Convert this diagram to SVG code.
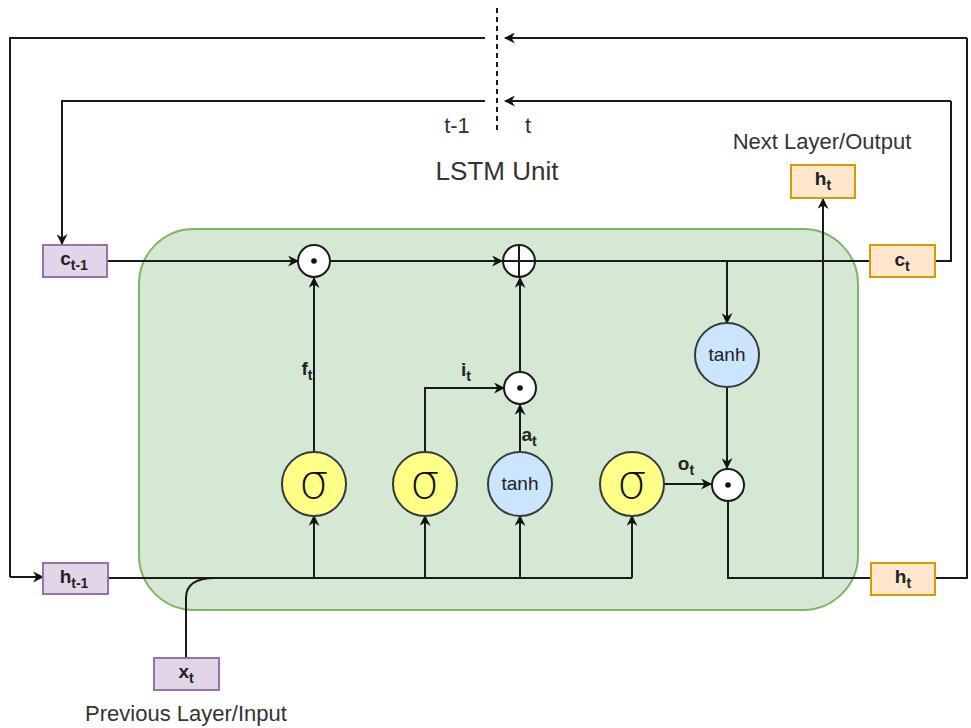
<svg xmlns="http://www.w3.org/2000/svg" width="971" height="728" viewBox="0 0 971 728">
<defs>
<marker id="arr" viewBox="0 0 10 10" refX="9" refY="5" markerWidth="11" markerHeight="11" markerUnits="userSpaceOnUse" orient="auto">
<path d="M0,0 L10,5 L0,10 L3,5 Z" fill="#111"/>
</marker>
<style>
.ln{fill:none;stroke:#1a1a1a;stroke-width:2}
.ar{marker-end:url(#arr)}
.pu{fill:#e1d5e7;stroke:#9673a6;stroke-width:2}
.or{fill:#ffe6cc;stroke:#d79b00;stroke-width:2}
.ye{fill:#ffff88;stroke:#36393d;stroke-width:2}
.bl{fill:#cce5ff;stroke:#36393d;stroke-width:2}
.op{fill:#ffffff;stroke:#1a1a1a;stroke-width:2}
.lb{font-family:"Liberation Sans",Arial,sans-serif;font-size:19px;font-weight:bold;fill:#222;text-anchor:middle}
.sb{font-size:14px}
.tx{font-family:"Liberation Sans",Arial,sans-serif;font-size:22px;fill:#333;text-anchor:middle}
.sg{font-family:"DejaVu Sans",sans-serif;font-weight:200;font-size:48px;fill:#111;text-anchor:middle}
.th{font-family:"Liberation Sans",Arial,sans-serif;font-size:19px;fill:#222;text-anchor:middle}
</style>
</defs>

<!-- cell body -->
<rect id="cell" x="139" y="229" width="719" height="381" rx="55" ry="55" fill="#d5e8d4" stroke="#82b366" stroke-width="2"/>

<!-- time step divider -->
<line x1="497" y1="8" x2="497" y2="133" stroke="#1a1a1a" stroke-width="2" stroke-dasharray="5,4"/>

<g id="connectors">
<!-- recurrent loops -->
<polyline class="ln" points="485,38 10,38 10,577"/>
<polyline class="ln ar" points="10,577 43,577"/>
<polyline class="ln ar" points="967,38 505,38"/>
<polyline class="ln" points="967,38 967,578 935,578"/>
<polyline class="ln ar" points="485,101 62,101 62,244"/>
<polyline class="ln ar" points="951,101 505,101"/>
<polyline class="ln" points="951,101 951,261 935,261"/>
<!-- cell state path -->
<line class="ln ar" x1="107" y1="261" x2="298" y2="261"/>
<line class="ln ar" x1="331" y1="261" x2="502" y2="261"/>
<line class="ln" x1="535" y1="261" x2="870" y2="261"/>
<polyline class="ln ar" points="727,261 727,323"/>
<line class="ln ar" x1="727" y1="387" x2="727" y2="468"/>
<!-- hidden/input bus -->
<line class="ln" x1="108" y1="578" x2="632" y2="578"/>
<path class="ln" d="M186,658 L186,598 Q186,578 215,578"/>
<line class="ln ar" x1="314" y1="578" x2="314" y2="516"/>
<line class="ln ar" x1="425" y1="578" x2="425" y2="516"/>
<line class="ln ar" x1="520" y1="578" x2="520" y2="516"/>
<line class="ln ar" x1="632" y1="578" x2="632" y2="516"/>
<!-- gates to operators -->
<line class="ln ar" x1="314" y1="451" x2="314" y2="278"/>
<polyline class="ln ar" points="425,451 425,388 504,388"/>
<line class="ln ar" x1="520" y1="451" x2="520" y2="405"/>
<line class="ln ar" x1="520" y1="371" x2="520" y2="278"/>
<line class="ln ar" x1="664" y1="484" x2="711" y2="484"/>
<!-- output -->
<polyline class="ln" points="728,501 728,578 871,578"/>
<line class="ln ar" x1="823" y1="578" x2="823" y2="199"/>
</g>

<!-- gate labels -->
<text class="lb" x="307" y="375">f<tspan class="sb" dy="5">t</tspan></text>
<text class="lb" x="466" y="376">i<tspan class="sb" dy="5">t</tspan></text>
<text class="lb" x="529" y="441">a<tspan class="sb" dy="5">t</tspan></text>
<text class="lb" x="686" y="470">o<tspan class="sb" dy="5">t</tspan></text>

<g id="c_prev"><rect class="pu" x="43" y="245" width="64" height="32"/><text class="lb" x="74" y="265">c<tspan class="sb" dy="5">t-1</tspan></text></g>
<g id="h_prev"><rect class="pu" x="43" y="563" width="65" height="31"/><text class="lb" x="74" y="583">h<tspan class="sb" dy="5">t-1</tspan></text></g>
<g id="x_t"><rect class="pu" x="154" y="658" width="65" height="32"/><text class="lb" x="186" y="678">x<tspan class="sb" dy="5">t</tspan></text></g>
<g id="h_out"><rect class="or" x="791" y="165" width="64" height="33"/><text class="lb" x="823" y="185">h<tspan class="sb" dy="5">t</tspan></text></g>
<g id="c_t"><rect class="or" x="870" y="245" width="65" height="32"/><text class="lb" x="902" y="266">c<tspan class="sb" dy="5">t</tspan></text></g>
<g id="h_t"><rect class="or" x="871" y="563" width="64" height="32"/><text class="lb" x="903" y="583">h<tspan class="sb" dy="5">t</tspan></text></g>

<g id="forget_mul"><circle class="op" cx="314" cy="261" r="16"/><circle cx="314" cy="261" r="2.8" fill="#111"/></g>
<g id="cell_add"><circle class="op" cx="519" cy="261" r="16"/><line x1="503" y1="261" x2="535" y2="261" stroke="#1a1a1a" stroke-width="2"/><line x1="519" y1="245" x2="519" y2="277" stroke="#1a1a1a" stroke-width="2"/></g>
<g id="input_mul"><circle class="op" cx="520" cy="388" r="16"/><circle cx="520" cy="388" r="2.8" fill="#111"/></g>
<g id="output_mul"><circle class="op" cx="728" cy="485" r="16"/><circle cx="728" cy="485" r="2.8" fill="#111"/></g>

<g id="forget_gate"><circle class="ye" cx="314" cy="484" r="32"/><text class="sg" x="314" y="498">σ</text></g>
<g id="input_gate"><circle class="ye" cx="425" cy="484" r="32"/><text class="sg" x="425" y="498">σ</text></g>
<g id="cand_tanh"><circle class="bl" cx="520" cy="484" r="32"/><text class="th" x="520" y="490">tanh</text></g>
<g id="output_gate"><circle class="ye" cx="632" cy="484" r="32"/><text class="sg" x="632" y="498">σ</text></g>
<g id="cell_tanh"><circle class="bl" cx="727" cy="355" r="32"/><text class="th" x="727" y="361">tanh</text></g>

<text class="tx" x="457" y="133">t-1</text>
<text class="tx" x="528" y="133">t</text>
<text class="tx" x="497" y="180" style="font-size:26px">LSTM Unit</text>
<text class="tx" x="822" y="149">Next Layer/Output</text>
<text class="tx" x="186" y="721">Previous Layer/Input</text>
</svg>
